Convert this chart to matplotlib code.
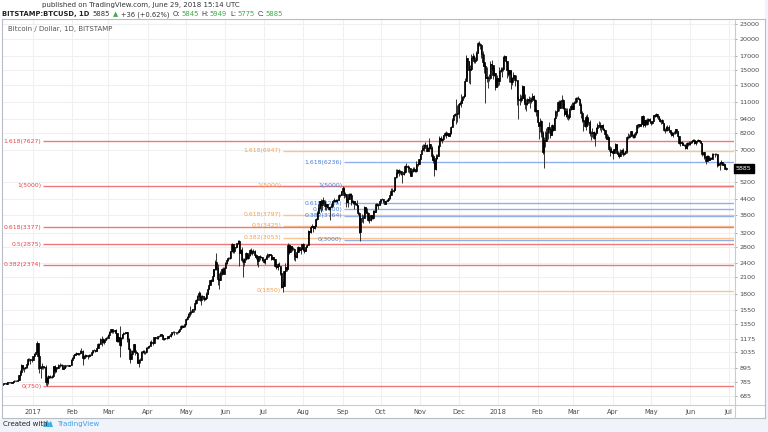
import numpy as np
import matplotlib
matplotlib.use("Agg")
import matplotlib.pyplot as plt
from matplotlib.patches import Rectangle, Polygon
import datetime as dt

# ---------------- DATA (daily close, high, low; BTC/USD Bitstamp) ----------------
d2016_12 = [(767,772,758),(772,775,765),(775,778,768),(770,778,765),(780,782,768),(781,785,776),(779,782,772),(778,781,774),(785,787,776),(790,793,784),(791,794,786),(792,795,788),(800,802,790),(834,836,798),(861,875,830),(918,925,855),(890,920,875),(891,900,860),(900,905,885),(925,935,895),(973,980,922),(970,985,955),(960,972,925),(966,970,945)]
d2017_01 = [(998,1000,962),(1021,1033,992),(1043,1045,1015),(1129,1150,1040),(1000,1135,880),(890,1025,850),(900,905,810),(907,935,880),(900,910,880),(905,910,895),(780,915,760),(810,830,750),(826,835,770),(818,835,810),(822,825,810),(831,835,815),(907,910,830),(865,915,850),(897,900,860),(892,897,880),(921,928,890),(922,940,900),(922,925,912),(888,925,885),(893,898,885),(916,918,892),(917,922,905),(918,922,912),(913,920,908),(919,922,910),(965,970,915)]
d2017_02 = [(985,990,960),(1010,1015,980),(1018,1030,1005),(1030,1040,1010),(1015,1030,1005),(1025,1028,1010),(1050,1055,1020),(1050,1075,1030),(980,1060,920),(1000,1005,970),(1005,1015,995),(997,1008,990),(995,1005,975),(1010,1015,990),(1008,1015,1000),(1035,1040,1005),(1055,1060,1030),(1055,1070,1050),(1050,1060,1040),(1080,1085,1045),(1120,1125,1075),(1118,1130,1100),(1170,1180,1115),(1175,1210,1100),(1145,1180,1130),(1163,1168,1120),(1190,1195,1160),(1190,1210,1175)]
d2017_03 = [(1223,1230,1185),(1257,1265,1220),(1285,1295,1250),(1263,1285,1240),(1270,1275,1245),(1275,1280,1260),(1240,1285,1150),(1150,1245,1140),(1195,1210,1145),(1110,1330,990),(1180,1200,1100),(1225,1230,1175),(1240,1250,1215),(1245,1258,1225),(1250,1258,1240),(1175,1260,1140),(1070,1180,1060),(970,1080,940),(1020,1060,970),(1045,1055,1015),(1115,1120,1040),(1040,1115,1005),(1030,1055,1025),(940,1035,935),(965,975,900),(965,985,940),(1040,1045,965),(1045,1060,1025),(1040,1055,1020),(1035,1045,1020),(1080,1085,1030)]
d2017_04 = [(1085,1100,1075),(1100,1110,1075),(1145,1150,1100),(1140,1160,1120),(1130,1145,1110),(1195,1200,1125),(1190,1200,1170),(1180,1195,1170),(1205,1210,1175),(1210,1215,1200),(1225,1230,1205),(1215,1230,1205),(1170,1220,1160),(1180,1190,1165),(1185,1190,1175),(1185,1195,1175),(1205,1210,1180),(1210,1220,1200),(1225,1230,1200),(1255,1260,1220),(1260,1270,1245),(1250,1265,1215),(1250,1260,1235),(1250,1255,1235),(1265,1275,1245),(1290,1295,1260),(1330,1340,1285),(1320,1345,1300),(1330,1340,1310),(1350,1355,1320)]
d2017_05 = [(1420,1425,1345),(1450,1465,1410),(1490,1495,1440),(1510,1600,1460),(1515,1550,1480),(1555,1560,1510),(1555,1570,1520),(1650,1660,1550),(1705,1720,1640),(1770,1780,1700),(1820,1850,1760),(1690,1830,1680),(1760,1775,1620),(1770,1780,1740),(1710,1770,1680),(1730,1750,1690),(1800,1830,1720),(1880,1895,1790),(1960,1975,1875),(2050,2055,1960),(2040,2075,2000),(2130,2270,2030),(2270,2280,2120),(2440,2480,2260),(2300,2640,2260),(2070,2380,1950),(2050,2190,1880),(2190,2230,2050),(2270,2300,2140),(2180,2310,2160),(2300,2320,2170)]
d2017_06 = [(2400,2440,2290),(2480,2490,2390),(2530,2560,2460),(2520,2560,2490),(2690,2700,2510),(2870,2920,2680),(2690,2880,2640),(2800,2810,2640),(2810,2840,2780),(2900,2920,2800),(2970,2990,2880),(2650,2990,2330),(2720,2760,2620),(2470,2790,2430),(2440,2520,2100),(2500,2520,2340),(2650,2670,2470),(2520,2650,2500),(2590,2600,2510),(2730,2750,2580),(2640,2780,2610),(2700,2720,2600),(2700,2750,2680),(2600,2720,2560),(2560,2630,2500),(2450,2580,2360),(2570,2580,2320),(2560,2590,2480),(2540,2570,2520),(2470,2550,2460)]
d2017_07 = [(2420,2500,2400),(2500,2520,2380),(2560,2600,2500),(2600,2640,2560),(2610,2620,2560),(2600,2620,2590),(2500,2610,2480),(2550,2560,2480),(2500,2560,2500),(2350,2510,2320),(2320,2410,2270),(2390,2410,2260),(2340,2420,2330),(2200,2350,2150),(1920,2200,1910),(1930,2030,1830),(2230,2240,1930),(2310,2400,2180),(2270,2400,2240),(2860,2900,2270),(2680,2880,2620),(2830,2860,2670),(2750,2830,2700),(2760,2790,2730),(2570,2770,2480),(2540,2630,2460),(2670,2690,2520),(2800,2820,2660),(2730,2810,2690),(2750,2770,2630),(2870,2890,2740)]
d2017_08 = [(2720,2920,2690),(2700,2760,2650),(2800,2810,2700),(2850,2880,2790),(3250,3290,2850),(3220,3270,3180),(3390,3410,3210),(3420,3480,3370),(3340,3420,3240),(3420,3440,3320),(3640,3690,3420),(3850,3950,3630),(4060,4200,3850),(4320,4330,4000),(4160,4400,3900),(4370,4380,3960),(4290,4480,4260),(4140,4360,3990),(4190,4200,3980),(4080,4190,4040),(4000,4080,3980),(4090,4130,3600),(4140,4250,4080),(4310,4340,4110),(4360,4460,4300),(4340,4380,4300),(4350,4390,4310),(4380,4400,4230),(4580,4620,4360),(4570,4630,4500),(4740,4750,4560)]
d2017_09 = [(4900,4980,4740),(4580,4940,4450),(4620,4720,4480),(4280,4600,4100),(4410,4510,4100),(4620,4670,4400),(4600,4670,4520),(4300,4670,4150),(4330,4370,4220),(4230,4330,4000),(4200,4320,4150),(4150,4350,4080),(3870,4160,3800),(3230,3910,3210),(3700,3760,2970),(3700,3840,3550),(3690,3800,3500),(4090,4110,3690),(3910,4090,3860),(3880,4040,3860),(3600,3900,3590),(3600,3750,3530),(3780,3800,3580),(3670,3780,3650),(3930,3970,3660),(3890,3960,3870),(4210,4230,3890),(4180,4250,4130),(4160,4200,4020),(4330,4360,4160)]
d2017_10 = [(4390,4400,4250),(4400,4470,4370),(4310,4430,4250),(4210,4340,4200),(4320,4360,4200),(4370,4410,4320),(4440,4460,4320),(4600,4620,4430),(4760,4880,4570),(4750,4900,4720),(4820,4870,4730),(5430,5450,4820),(5640,5860,5400),(5820,5840,5560),(5680,5840,5500),(5750,5780,5580),(5600,5770,5530),(5570,5600,5130),(5700,5730,5540),(6000,6080,5620),(6000,6190,5900),(5980,6070,5710),(5900,6050,5630),(5500,5890,5480),(5730,5760,5480),(5880,5970,5690),(5770,5990,5720),(5730,5850,5680),(6150,6300,5680),(6130,6230,6030),(6450,6460,6120)]
d2017_11 = [(6740,6750,6380),(7030,7350,6930),(7160,7430,7030),(7380,7440,6960),(7380,7590,7310),(6960,7410,6930),(7120,7200,6960),(7440,7850,7080),(7130,7440,7050),(6600,7290,6400),(6350,6780,6200),(5860,6490,5500),(6520,6750,5800),(6600,6720,6420),(7280,7330,6600),(7830,7980,7120),(7700,8000,7600),(7780,7850,7500),(8040,8090,7700),(8200,8280,8000),(8100,8370,7830),(8250,8290,8080),(8030,8260,8010),(8200,8340,8000),(8750,8760,8150),(9280,9460,8740),(9720,9780,9300),(9890,9960,9650),(9850,11400,9000),(9950,10700,9100)]
d2017_12 = [(10850,10950,9450),(10900,11190,10690),(11250,11850,10500),(11600,11650,10900),(11700,11860,11450),(13500,13800,11700),(16800,17200,13500),(16300,16750,13900),(14900,16300,13200),(15100,15700,13100),(16700,17400,15000),(17100,17550,16500),(16300,17200,15900),(16400,16900,16000),(17500,17900,16400),(19200,19400,17500),(19050,19666,18800),(18900,19200,18200),(17300,18950,16800),(16100,17800,15500),(15500,17300,14500),(13800,15800,10900),(14000,15400,13300),(13800,14100,12600),(13900,14400,13400),(15800,16200,13700),(15600,16400,14900),(14300,15600,13700),(14500,15200,14100),(12700,14500,12300),(13850,14200,12700)]
d2018_01 = [(13400,13900,12800),(14750,15300,12900),(15000,15400,14700),(15100,15300,14000),(16900,17100,14800),(17100,17200,16300),(16200,17100,16000),(14900,16200,13800),(14400,15200,14100),(14900,14900,13300),(13300,14900,12500),(13800,14000,12900),(14200,14600,13800),(13600,14300,12800),(13600,14300,13400),(11300,13600,10700),(11200,11700,9400),(11200,11900,10700),(11500,11800,11000),(12800,12900,11500),(11500,12800,11000),(10800,11900,10300),(10900,11300,10100),(11400,11500,10700),(11200,11700,10900),(11100,11600,10400),(11400,11600,10900),(11700,12000,11400),(11200,11800,11100),(10100,11300,10000),(10200,10300,9700)]
d2018_02 = [(9100,10200,8800),(8800,9100,7800),(9200,9450,8300),(8200,9300,7900),(6900,8400,6750),(7700,7900,5900),(7600,8400,7200),(8200,8600,7700),(8700,8750,7800),(8550,9100,8200),(8100,8550,7850),(8850,8950,8100),(8500,8900,8400),(9450,9500,8500),(10000,10200,9400),(10150,10300,9700),(11050,11100,10100),(10400,11200,10100),(11150,11250,10400),(11200,11800,11100),(10450,11300,10300),(9830,10900,9700),(10150,10400,9600),(9650,10400,9400),(9580,9850,9300),(10300,10400,9400),(10600,10850,10200),(10300,11000,10300)]
d2018_03 = [(10900,11000,10300),(11000,11150,10800),(11450,11550,10950),(11500,11600,11050),(11400,11700,11350),(10700,11400,10600),(9900,10900,9500),(9300,10100,9100),(9250,9400,8400),(8800,9500,8750),(9550,9750,8500),(9150,9850,8800),(9150,9450,8850),(8200,9350,8000),(8250,8400,7700),(8300,8600,7950),(7870,8350,7800),(8200,8300,7300),(8600,8700,8100),(8900,9050,8300),(8900,9200,8800),(8700,9100,8500),(8900,8900,8300),(8550,9000,8500),(8450,8650,8350),(8150,8500,7850),(7800,8200,7750),(7950,8100,7800),(7100,7950,6950),(6850,7250,6600),(6950,7200,6850)]
d2018_04 = [(6800,7000,6450),(7050,7100,6800),(7420,7500,7000),(6800,7430,6750),(6780,6920,6620),(6620,6850,6520),(6900,7070,6600),(7020,7100,6900),(6770,7150,6620),(6830,6880,6680),(6940,6970,6810),(7920,8000,6800),(7890,8200,7770),(8000,8150,7830),(8350,8400,8000),(8050,8400,7900),(7900,8150,7830),(8170,8200,7850),(8270,8300,8100),(8850,8930,8200),(8920,9000,8600),(8800,9000,8750),(8940,9000,8780),(9650,9700,8930),(8870,9750,8750),(9280,9300,8700),(8930,9390,8900),(9340,9450,8900),(9400,9500,9200),(9240,9460,9150)]
d2018_05 = [(9070,9250,8850),(9220,9240,8990),(9750,9800,9180),(9700,9750,9550),(9850,9950,9700),(9650,9890,9450),(9380,9650,9200),(9200,9450,9100),(9330,9350,8980),(9050,9380,9020),(8450,9050,8350),(8500,8640,8200),(8700,8760,8380),(8680,8880,8350),(8480,8840,8450),(8340,8480,8120),(8060,8380,8020),(8240,8280,7930),(8230,8380,8160),(8520,8580,8160),(8390,8560,8330),(7980,8400,7940),(7500,8020,7450),(7570,7730,7280),(7470,7630,7350),(7340,7580,7320),(7350,7400,7250),(7110,7430,7070),(7470,7550,7060),(7400,7560,7310),(7490,7620,7380)]
d2018_06 = [(7540,7600,7370),(7640,7700,7480),(7720,7760,7620),(7500,7750,7450),(7630,7660,7380),(7660,7700,7500),(7690,7750,7630),(7620,7700,7550),(7500,7650,7480),(6770,7500,6650),(6880,6900,6680),(6550,6900,6460),(6310,6640,6120),(6640,6680,6300),(6400,6660,6400),(6500,6550,6380),(6460,6590,6450),(6720,6800,6420),(6750,6830,6680),(6760,6800,6570),(6720,6790,6700),(6060,6740,5950),(6150,6250,6030),(6170,6260,5780),(6250,6350,6110),(6090,6260,6060),(6140,6180,6020),(5849,6150,5830),(5885,5949,5775)]
first_day = "2016-12-08"
first_open = 762
last_open = 5845

month_ticks = ["2017-01-01","2017-02-01","2017-03-01","2017-04-01","2017-05-01","2017-06-01","2017-07-01","2017-08-01","2017-09-01","2017-10-01","2017-11-01","2017-12-01","2018-01-01","2018-02-01","2018-03-01","2018-04-01","2018-05-01","2018-06-01","2018-07-01"]
month_labels = ["2017","Feb","Mar","Apr","May","Jun","Jul","Aug","Sep","Oct","Nov","Dec","2018","Feb","Mar","Apr","May","Jun","Jul"]
price_ticks = [685,785,895,1035,1175,1350,1550,1800,2100,2400,2800,3200,3800,4400,5200,7000,8200,9400,11000,13000,15000,17000,20000,23000]

fib_ratios = ["0","0.382","0.5","0.618","1","1.618"]
fib_red = [750,2374,2875,3377,5000,7627]
fib_orange = [1850,3053,3425,3797,5000,6947]
fib_blue = [3000,3764,4000,4236,5000,6236]
fib_red_start = "2017-01-09"
fib_orange_start = "2017-07-16"
fib_blue_start = "2017-09-02"
last_price = 5885

# ---------------- build series ----------------
rows = (d2016_12 + d2017_01 + d2017_02 + d2017_03 + d2017_04 + d2017_05 + d2017_06 +
        d2017_07 + d2017_08 + d2017_09 + d2017_10 + d2017_11 + d2017_12 + d2018_01 +
        d2018_02 + d2018_03 + d2018_04 + d2018_05 + d2018_06)
arr = np.array(rows, dtype=float)
close, high, low = arr[:, 0], arr[:, 1], arr[:, 2]
opn = np.concatenate([[first_open], close[:-1]])
opn[-1] = last_open
origin = dt.date(2017, 1, 1)
def dnum(s):
    return (dt.date.fromisoformat(s) - origin).days
x = dnum(first_day) + np.arange(len(close))

W, H = 768, 432
fig = plt.figure(figsize=(W/100, H/100), dpi=100)
fig.patch.set_facecolor("#f0f3fa")
fig.add_artist(Rectangle((0, (H-419)/H), 765/W, 419/H, transform=fig.transFigure,
                         facecolor="white", edgecolor="none", zorder=0))

L, R, T, B = 2, 734, 19, 405
ax = fig.add_axes([L/W, (H-B)/H, (R-L)/W, (B-T)/H])
ax.set_yscale("log")
ax.set_facecolor("white")

# grid
for m in month_ticks:
    ax.axvline(dnum(m), color="#f0f0f0", lw=0.8, zorder=0)
for p in price_ticks:
    ax.axhline(p, color="#f0f0f0", lw=0.8, zorder=0)

# fib levels
def draw_fib(levels, start, lcol, tcol):
    xs = dnum(start)
    for r, v in zip(fib_ratios, levels):
        ax.hlines(v, xs, 560, color=lcol, lw=1.0, zorder=2)
        ax.text(xs - 1.3, v, f"{r}({v})", color=tcol, fontsize=4.4,
                ha="right", va="center", zorder=3, family="DejaVu Sans")
draw_fib(fib_orange, fib_orange_start, "#f9c48f", "#f0a050")
draw_fib(fib_blue, fib_blue_start, "#8fb0ee", "#4a7fd8")
draw_fib(fib_red, fib_red_start, "#f07878", "#e8454f")

# candles
ax.vlines(x, low, high, color="#333333", lw=0.7, zorder=4)
bot = np.minimum(opn, close)
top = np.maximum(opn, close)
ax.bar(x, top - bot, bottom=bot, width=0.9, color="#000000", edgecolor="#000000",
       lw=0.5, zorder=5)

# axes styling
for s in ax.spines.values():
    s.set_visible(False)
ax.set_xticks([dnum(m) for m in month_ticks])
ax.set_xticklabels(month_labels)
ax.tick_params(axis="x", length=0, labelsize=4.8, labelcolor="#4a4a4a", pad=3)
ax.yaxis.tick_right()
ax.set_yticks(price_ticks)
ax.set_yticklabels([str(p) for p in price_ticks])
ax.minorticks_off()
ax.tick_params(axis="y", length=2, width=0.5, color="#888888", labelsize=4.6,
               labelcolor="#4a4a4a", pad=2)
ax.set_ylim(629, 24180)
ax.set_xlim(-24.3, 550.2)

# frame lines
def hline_px(y, x0, x1, c="#b8bcc4"):
    fig.add_artist(plt.Line2D([x0/W, x1/W], [(H-y)/H, (H-y)/H], color=c, lw=0.8,
                              transform=fig.transFigure, zorder=10))
def vline_px(xp, y0, y1, c="#b8bcc4"):
    fig.add_artist(plt.Line2D([xp/W, xp/W], [(H-y0)/H, (H-y1)/H], color=c, lw=0.8,
                              transform=fig.transFigure, zorder=10))
hline_px(T, L, 765)
hline_px(418, L, 765)
hline_px(B, L, 765, "#c8ccd2")
vline_px(L, T, 418)
vline_px(765, T, 418)
vline_px(R + 1, T, 418, "#c8ccd2")

# last price label
yfrac = ax.transAxes.inverted().transform(ax.transData.transform((0, last_price)))[1]
fig.text((R + 2)/W, (H-B)/H + yfrac*(B-T)/H, str(last_price), color="white", fontsize=4.6,
         ha="left", va="center",
         bbox=dict(boxstyle="square,pad=0.3", fc="black", ec="black"), zorder=20)

# chart title inside
fig.text(8/W, (H-29)/H, "Bitcoin / Dollar, 1D, BITSTAMP", fontsize=5, color="#555555",
         ha="left", va="center")

# header
fig.text(42/W, (H-5.5)/H, "published on TradingView.com, June 29, 2018 15:14 UTC",
         fontsize=5, color="#333333", ha="left", va="center")
fig.canvas.draw()
rend = fig.canvas.get_renderer()
green = "#3cae46"
pieces = [("BITSTAMP:BTCUSD, 1D", "#222222", "bold"), ("5885", "#333333", "normal"),
          ("\u25b2", green, "normal"), ("+36 (+0.62%)", "#333333", "normal"),
          ("O:", "#333333", "normal"), ("5845", green, "normal"),
          ("H:", "#333333", "normal"), ("5949", green, "normal"),
          ("L:", "#333333", "normal"), ("5775", green, "normal"),
          ("C:", "#333333", "normal"), ("5885", green, "normal")]
xpos = 2.0
for i, (s, c, w) in enumerate(pieces):
    t = fig.text(xpos/W, (H-14.3)/H, s, fontsize=4.9, color=c, weight=w, ha="left", va="center")
    bb = t.get_window_extent(renderer=rend)
    gap = 1.0 if s in ("O:", "H:", "L:", "C:") else 3.0
    xpos = bb.x1 + gap

# footer
fig.text(3/W, (H-424)/H, "Created with", fontsize=5, color="#222222", ha="left", va="center")
fig.add_artist(Polygon([(43/W, (H-427)/H), (47/W, (H-420)/H), (49/W, (H-423)/H),
                        (51/W, (H-421)/H), (53/W, (H-427)/H)], closed=True,
                       transform=fig.transFigure, fc="#3bb3e4", ec="none"))
fig.text(57/W, (H-424)/H, "TradingView", fontsize=5, color="#3ca0e6", ha="left", va="center")

fig.savefig("out.png", dpi=100, facecolor=fig.get_facecolor())
